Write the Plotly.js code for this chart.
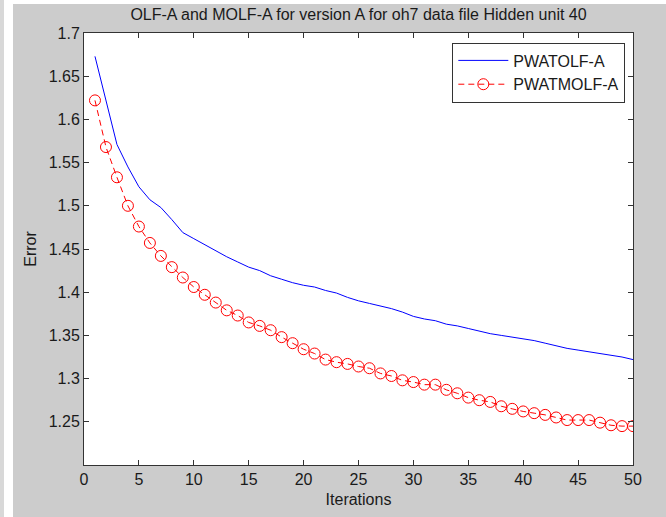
<!DOCTYPE html>
<html>
<head>
<meta charset="utf-8">
<script src="https://cdn.plot.ly/plotly-3.0.1.min.js"></script>
<style>
  html, body { margin: 0; padding: 0; background: #ffffff; width: 666px; height: 517px; overflow: hidden; }
  #strip { position: absolute; left: 0; top: 0; width: 4px; height: 517px; background: #d8d8d8; }
  #chart { position: absolute; left: 13px; top: 4px; width: 653px; height: 513px; }
</style>
</head>
<body>
<div id="strip"></div>
<div id="chart"></div>
<script>
const iterations = Array.from({length: 50}, (_, i) => i + 1);

const pwatolf = [
  1.673, 1.622, 1.571, 1.545, 1.522, 1.507, 1.498, 1.484, 1.469, 1.462,
  1.455, 1.448, 1.441, 1.435, 1.429, 1.425, 1.419, 1.415, 1.411, 1.408,
  1.406, 1.402, 1.399, 1.394, 1.390, 1.387, 1.384, 1.381, 1.377, 1.372,
  1.369, 1.367, 1.363, 1.361, 1.358, 1.355, 1.352, 1.350, 1.348, 1.346,
  1.344, 1.341, 1.338, 1.335, 1.333, 1.331, 1.329, 1.327, 1.325, 1.322
];

const pwatmolf = [
  1.622, 1.568, 1.533, 1.500, 1.476, 1.457, 1.442, 1.429, 1.417, 1.406,
  1.397, 1.388, 1.379, 1.373, 1.365, 1.361, 1.356, 1.348, 1.341, 1.334,
  1.329, 1.322, 1.319, 1.317, 1.314, 1.312, 1.306, 1.303, 1.298, 1.296,
  1.293, 1.293, 1.287, 1.283, 1.278, 1.275, 1.273, 1.268, 1.265, 1.262,
  1.260, 1.258, 1.255, 1.252, 1.252, 1.252, 1.249, 1.246, 1.245, 1.245
];

const yTickVals = [1.25, 1.3, 1.35, 1.4, 1.45, 1.5, 1.55, 1.6, 1.65, 1.7];
const yTickText = ["1.25", "1.3", "1.35", "1.4", "1.45", "1.5", "1.55", "1.6", "1.65", "1.7"];
const xTickVals = [0, 5, 10, 15, 20, 25, 30, 35, 40, 45, 50];

const FONT = "Liberation Sans, Arial, sans-serif";
const AXC = "#333333";

const traces = [
  {
    x: iterations, y: pwatolf, name: "PWATOLF-A", type: "scatter", mode: "lines",
    line: {color: "#0000ff", width: 1}
  },
  {
    x: iterations, y: pwatmolf, name: "PWATMOLF-A", type: "scatter", mode: "lines+markers",
    line: {color: "#ff0000", width: 1, dash: "6px,4px"},
    marker: {symbol: "circle-open", size: 11, color: "#ff0000", line: {width: 1, color: "#ff0000"}}
  }
];

const layout = {
  width: 653, height: 513,
  margin: {l: 71, r: 33, t: 29, b: 52, pad: 0},
  paper_bgcolor: "#cccccc",
  plot_bgcolor: "#ffffff",
  font: {family: FONT, size: 16, color: "#1a1a1a"},
  title: {
    text: "OLF-A and MOLF-A for version A for oh7 data file Hidden unit 40",
    font: {family: FONT, size: 16, color: "#1a1a1a"},
    x: 0.5, xref: "paper", xanchor: "center",
    y: 0.979, yref: "container", yanchor: "middle"
  },
  xaxis: {
    range: [0, 50], tickvals: xTickVals,
    ticks: "inside", ticklen: 5, tickwidth: 1, tickcolor: AXC,
    showline: true, linecolor: AXC, linewidth: 1, mirror: "ticks",
    showgrid: false, zeroline: false,
    tickfont: {family: FONT, size: 16, color: "#1a1a1a"},
    title: {text: "Iterations", font: {family: FONT, size: 16, color: "#1a1a1a"}, standoff: 6}
  },
  yaxis: {
    range: [1.2, 1.7], tickvals: yTickVals, ticktext: yTickText,
    ticks: "inside", ticklen: 5, tickwidth: 1, tickcolor: AXC,
    showline: true, linecolor: AXC, linewidth: 1, mirror: "ticks",
    showgrid: false, zeroline: false,
    tickfont: {family: FONT, size: 16, color: "#1a1a1a"},
    title: {text: "Error", font: {family: FONT, size: 16, color: "#1a1a1a"}, standoff: 8}
  },
  legend: {
    x: 0.986, y: 0.978, xanchor: "right", yanchor: "top",
    bgcolor: "#ffffff", bordercolor: AXC, borderwidth: 1,
    itemwidth: 50,
    font: {family: FONT, size: 16, color: "#1a1a1a"}
  },
  showlegend: true
};

Plotly.newPlot("chart", traces, layout, {displayModeBar: false, staticPlot: true});
</script>
</body>
</html>
